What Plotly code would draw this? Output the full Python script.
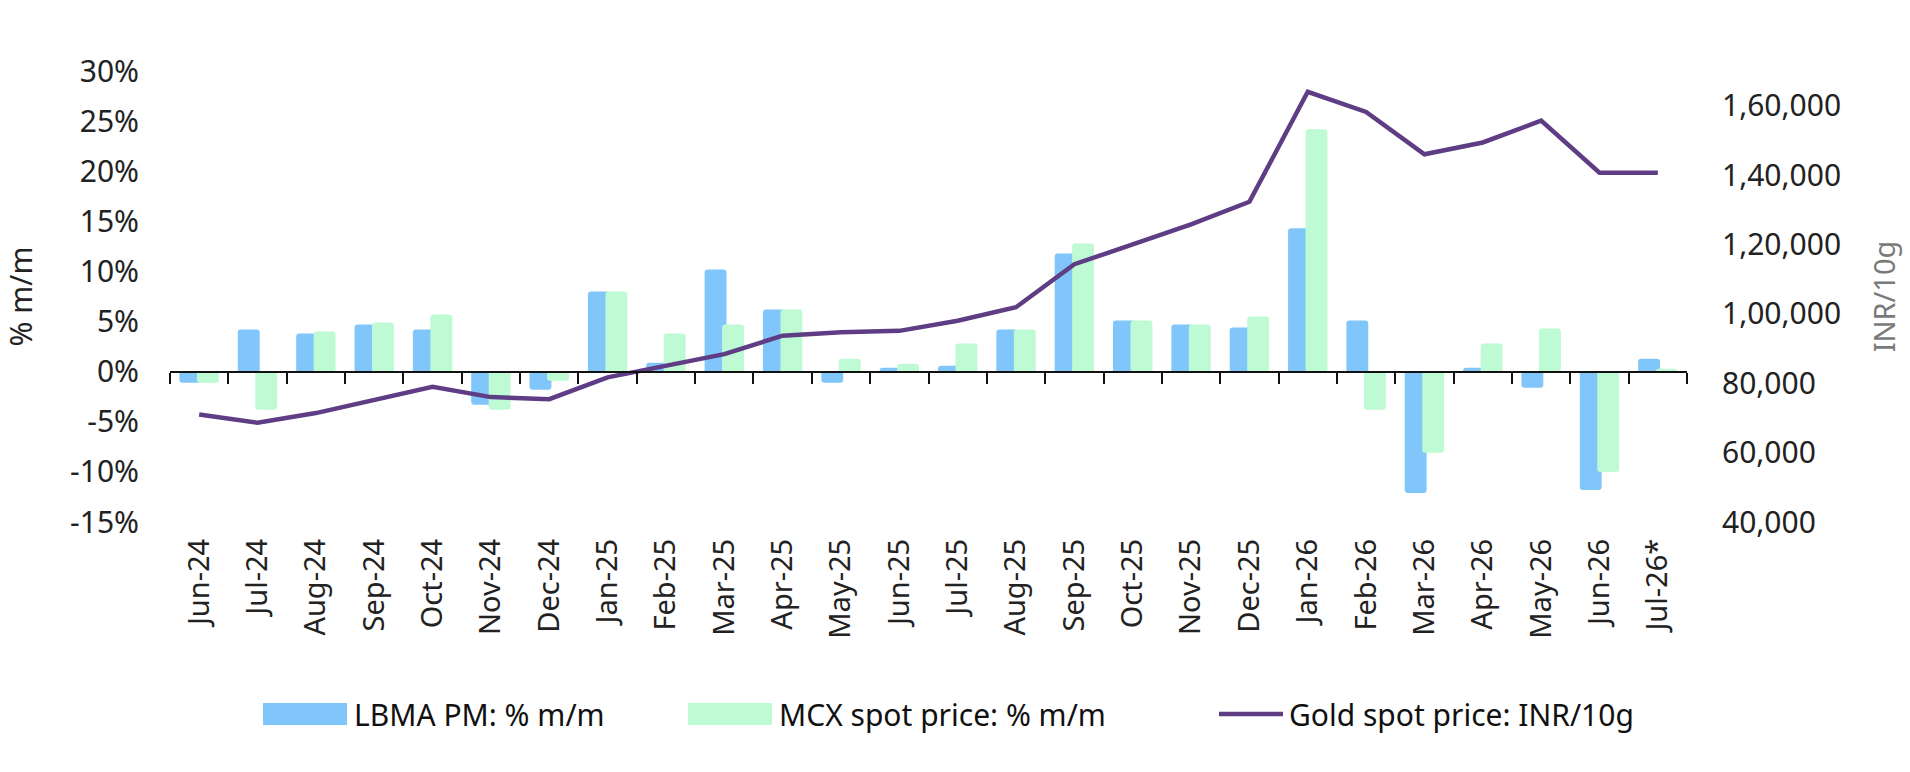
import plotly.graph_objects as go

months = ["Jun-24", "Jul-24", "Aug-24", "Sep-24", "Oct-24", "Nov-24", "Dec-24",
          "Jan-25", "Feb-25", "Mar-25", "Apr-25", "May-25", "Jun-25", "Jul-25",
          "Aug-25", "Sep-25", "Oct-25", "Nov-25", "Dec-25", "Jan-26", "Feb-26",
          "Mar-26", "Apr-26", "May-26", "Jun-26", "Jul-26*"]

lbma_pct = [-1.1, 4.2, 3.8, 4.7, 4.2, -3.3, -1.8, 8.0, 0.9, 10.2, 6.2, -1.1, 0.4,
            0.6, 4.2, 11.8, 5.1, 4.7, 4.4, 14.3, 5.1, -12.1, 0.4, -1.6, -11.8, 1.3]

mcx_pct = [-1.1, -3.8, 4.0, 4.9, 5.7, -3.8, -0.9, 8.0, 3.8, 4.7, 6.2, 1.3, 0.8,
           2.8, 4.2, 12.8, 5.1, 4.7, 5.5, 24.2, -3.8, -8.1, 2.8, 4.3, -10.0, 0.3]

gold_inr = [71000, 68600, 71400, 75100, 79000, 76000, 75400, 81700, 84900, 88400,
            93700, 94700, 95100, 98000, 101900, 114300, 120000, 125800, 132300,
            164000, 158200, 146000, 149400, 155700, 140700, 140700]

left_ticks = [-15, -10, -5, 0, 5, 10, 15, 20, 25, 30]
right_ticks = [40000, 60000, 80000, 100000, 120000, 140000, 160000]


def indian_fmt(v):
    s = str(int(v))
    if len(s) <= 3:
        return s
    last3 = s[-3:]
    rest = s[:-3]
    parts = []
    while len(rest) > 2:
        parts.insert(0, rest[-2:])
        rest = rest[:-2]
    if rest:
        parts.insert(0, rest)
    return ",".join(parts) + "," + last3


BLUE = "#80C6FA"
GREEN = "#BEFAD3"
PURPLE = "#5E3D85"
FONT = "Noto Sans"

W, H = 1910, 772
L, R, T, B = 170, 223, 71, 250
PW, PH = W - L - R, H - T - B


def px_x(p):
    return (p - L) / PW


def px_y(p):
    return (H - B - p) / PH


fig = go.Figure()

fig.add_trace(go.Bar(x=months, y=lbma_pct, name="LBMA PM: % m/m",
                     marker=dict(color=BLUE, line=dict(width=0), cornerradius=3),
                     offset=-0.3375, width=0.375, showlegend=False))
fig.add_trace(go.Bar(x=months, y=mcx_pct, name="MCX spot price: % m/m",
                     marker=dict(color=GREEN, line=dict(width=0), cornerradius=3),
                     offset=-0.0375, width=0.375, showlegend=False))
fig.add_trace(go.Scatter(x=months, y=gold_inr, name="Gold spot price: INR/10g",
                         yaxis="y2", mode="lines",
                         line=dict(color=PURPLE, width=4.5), showlegend=False))
# helper (invisible) trace carrying the zero-line axis with boundary ticks
fig.add_trace(go.Scatter(x=months, y=[0] * len(months), xaxis="x2", yaxis="y",
                         mode="lines", line=dict(width=0), opacity=0,
                         hoverinfo="skip", showlegend=False))

fig.update_layout(
    width=W, height=H,
    margin=dict(l=L, r=R, t=T, b=B, pad=0),
    paper_bgcolor="white", plot_bgcolor="white",
    barmode="overlay",
    font=dict(family=FONT, size=29, color="#222222"),
    xaxis=dict(type="category", tickangle=-90, ticks="", showline=False,
               showgrid=False, zeroline=False, ticklabelstandoff=10,
               tickfont=dict(size=29, color="#222222"),
               range=[-0.5, len(months) - 0.5]),
    xaxis2=dict(type="category", overlaying="x", anchor="free",
                position=15 / 45, matches="x", showticklabels=False,
                showline=True, linecolor="#111111", linewidth=2,
                ticks="outside", ticklen=11, tickwidth=2, tickcolor="#111111",
                tickson="boundaries", showgrid=False, zeroline=False),
    yaxis=dict(range=[-15, 30], tickvals=left_ticks,
               ticktext=[f"{v}%" for v in left_ticks],
               showgrid=False, zeroline=False, showline=False, ticks="",
               ticklabelstandoff=30, tickfont=dict(size=30, color="#222222"),
               title=dict(text="% m/m", font=dict(size=30, color="#222222"),
                          standoff=30)),
    yaxis2=dict(range=[40000, 170000], tickvals=right_ticks,
                ticktext=[indian_fmt(v) for v in right_ticks],
                overlaying="y", side="right", showgrid=False, zeroline=False,
                showline=False, ticks="", ticklabelstandoff=34,
                tickfont=dict(size=30, color="#222222"),
                title=dict(text="INR/10g", font=dict(size=29, color="#7a7a7a"),
                           standoff=34)),
    showlegend=False,
)

# custom legend matching the reference layout
leg_cy = 714
items = [
    ("box", BLUE, 263, 347, 352, "LBMA PM: % m/m"),
    ("box", GREEN, 688, 772, 777, "MCX spot price: % m/m"),
    ("line", PURPLE, 1219, 1283, 1287, "Gold spot price: INR/10g"),
]
for kind, col, x0, x1, tx, label in items:
    if kind == "box":
        fig.add_shape(type="rect", xref="paper", yref="paper",
                      x0=px_x(x0), x1=px_x(x1),
                      y0=px_y(leg_cy + 11), y1=px_y(leg_cy - 11),
                      fillcolor=col, line=dict(width=0))
    else:
        fig.add_shape(type="line", xref="paper", yref="paper",
                      x0=px_x(x0), x1=px_x(x1),
                      y0=px_y(leg_cy), y1=px_y(leg_cy),
                      line=dict(color=col, width=4.5))
    fig.add_annotation(text=label, xref="paper", yref="paper",
                       x=px_x(tx), y=px_y(leg_cy), xanchor="left",
                       yanchor="middle", showarrow=False,
                       font=dict(size=30, color="#111111", family=FONT))

fig.write_html("out.html")
